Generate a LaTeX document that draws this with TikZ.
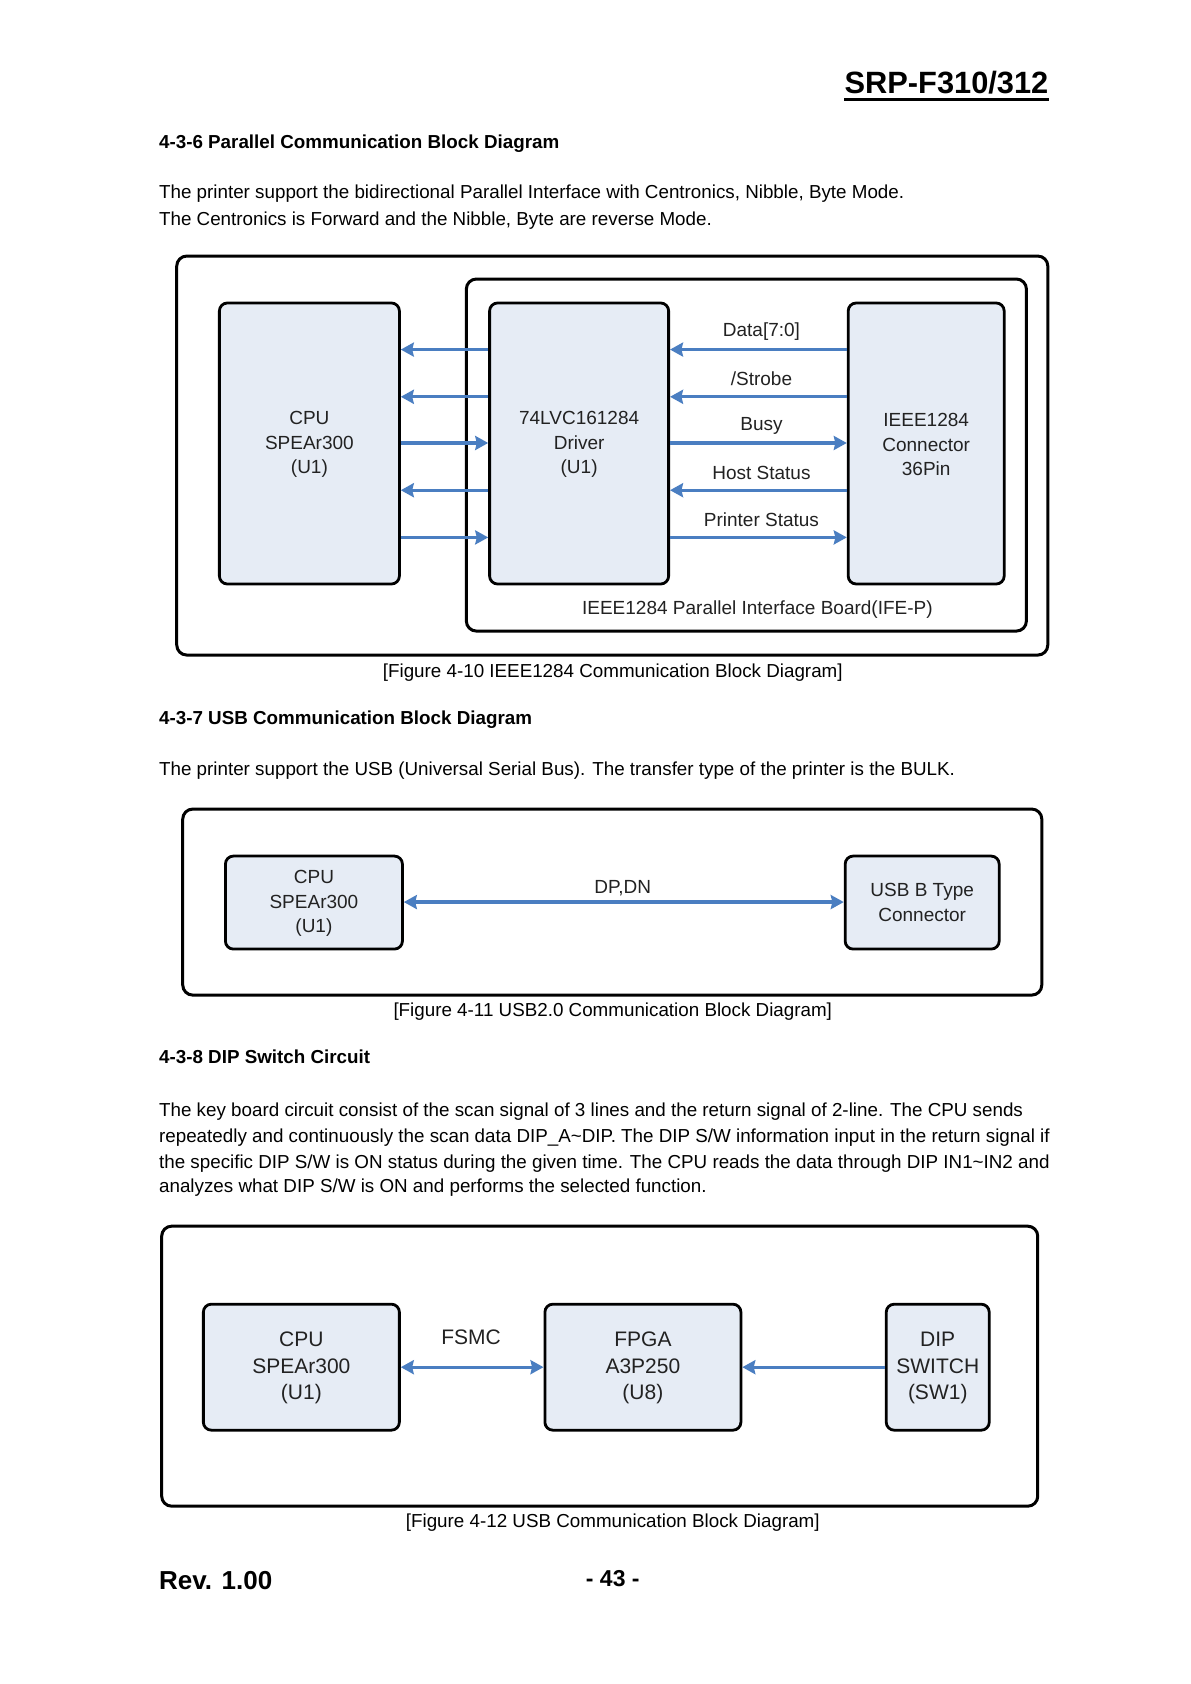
\documentclass[tikz,border=0pt]{standalone}
\usepackage{fontspec}
\setmainfont{Liberation Sans}
\usetikzlibrary{arrows.meta}
\definecolor{boxfill}{HTML}{E6ECF5}
\definecolor{arrowblue}{HTML}{4A7EC1}
\definecolor{txt}{HTML}{222222}
\begin{document}
\begin{tikzpicture}[x=0.50225pt,y=-0.50225pt,
 blk/.style={draw=black, line width=1.4pt, rounded corners=4pt, fill=boxfill, inner sep=0pt},
 frame/.style={draw=black, line width=1.5pt, rounded corners=5pt, inner sep=0pt},
 lbl/.style={font=\fontsize{9.5}{12.2}\selectfont, text=txt, align=center, inner sep=0pt},
 lblb/.style={font=\fontsize{10.5}{13.3}\selectfont, text=txt, align=center, inner sep=0pt},
 body/.style={font=\fontsize{9.4}{12}\selectfont, anchor=base west, inner sep=0pt},
 head/.style={font=\fontsize{9.4}{12}\selectfont\bfseries, anchor=base west, inner sep=0pt},
 capt/.style={font=\fontsize{9.4}{12}\selectfont, anchor=base, inner sep=0pt},
 tip/.tip={Stealth[length=6.5pt,width=7pt,inset=0.8pt]},
 arr/.style={draw=arrowblue, line width=1.6pt, -tip},
 darr/.style={draw=arrowblue, line width=1.6pt, tip-tip},
]
\useasboundingbox (0,0) rectangle (1185.6,1676.4);
\fill[white] (0,0) rectangle (1185.6,1676.4);

% header
\node[anchor=base east, inner sep=0pt, font=\fontsize{15.4}{18}\selectfont\bfseries] (hdr) at (1044,93) {SRP-F310/312};
\draw[line width=1.5pt] ([yshift=-2.8pt]hdr.base west) -- ([yshift=-2.8pt]hdr.base east);

% section 4-3-6
\node[head] (h1) at (158,147.5) {4-3-6 Parallel Communication Block Diagram};
\node[body] (p1a) at (158,198) {The printer support the bidirectional Parallel Interface with Centronics, Nibble, Byte Mode.};
\node[body] (p1b) at (158,224) {The Centronics is Forward and the Nibble, Byte are reverse Mode.};

% figure 4-10
\node[frame, minimum width=435.5pt, minimum height=199.5pt] (f1) at (609.5,453.5) {};
\node[frame, minimum width=280pt, minimum height=176pt] (f1in) at (743,453) {};
\node[blk, minimum width=90pt, minimum height=140.5pt] (cpu1) at (308,441.5) {};
\node[blk, minimum width=89.5pt, minimum height=140.5pt] (drv) at (576.5,441.5) {};
\node[blk, minimum width=78pt, minimum height=140.5pt] (ieee) at (922,441.5) {};
\node[lbl] (cpu1t) at (308,442.5) {CPU\\SPEAr300\\(U1)};
\node[lbl] (drvt) at (576.5,442.5) {74LVC161284\\Driver\\(U1)};
\node[lbl] (ieeet) at (922,442.5) {IEEE1284\\Connector\\36Pin};

\draw[arr] (drv.west |- 0,348) -- (cpu1.east |- 0,348);
\draw[arr] (drv.west |- 0,395) -- (cpu1.east |- 0,395);
\draw[arr] (cpu1.east |- 0,441) -- (drv.west |- 0,441);
\draw[arr] (drv.west |- 0,488) -- (cpu1.east |- 0,488);
\draw[arr] (cpu1.east |- 0,535) -- (drv.west |- 0,535);

\draw[arr] (ieee.west |- 0,348) -- (drv.east |- 0,348);
\draw[arr] (ieee.west |- 0,395) -- (drv.east |- 0,395);
\draw[arr] (drv.east |- 0,441) -- (ieee.west |- 0,441);
\draw[arr] (ieee.west |- 0,488) -- (drv.east |- 0,488);
\draw[arr] (drv.east |- 0,535) -- (ieee.west |- 0,535);

\node[lbl] (l1) at (758,330) {Data[7:0]};
\node[lbl] (l2) at (758,377) {/Strobe};
\node[lbl] (l3) at (758,424) {Busy};
\node[lbl] (l4) at (758,471) {Host Status};
\node[lbl] (l5) at (758,517) {Printer Status};
\node[lbl] (board) at (754,607) {IEEE1284 Parallel Interface Board(IFE-P)};
\node[capt] (c1) at (610,674) {[Figure 4-10 IEEE1284 Communication Block Diagram]};

% section 4-3-7
\node[head] (h2) at (158,721) {4-3-7 USB Communication Block Diagram};
\node[body] (p2) at (158,772) {The printer support the USB (Universal Serial Bus). The transfer type of the printer is the BULK.};

% figure 4-11
\node[frame, minimum width=429.5pt, minimum height=93pt] (f2) at (609.5,898) {};
\node[blk, minimum width=88.5pt, minimum height=46.5pt] (cpu2) at (312.5,898.5) {};
\node[blk, minimum width=77pt, minimum height=46.5pt] (usb) at (918,898.5) {};
\node[lbl] (cpu2t) at (312.5,899.5) {CPU\\SPEAr300\\(U1)};
\node[lbl] (usbt) at (918,898.5) {USB B Type\\Connector};
\draw[darr] (cpu2.east |- 0,898) -- (usb.west |- 0,898);
\node[lbl] (l6) at (620,884) {DP,DN};
\node[capt] (c2) at (610,1012) {[Figure 4-11 USB2.0 Communication Block Diagram]};

% section 4-3-8
\node[head] (h3) at (158,1059) {4-3-8 DIP Switch Circuit};
\node[body] (p3a) at (158,1111) {The key board circuit consist of the scan signal of 3 lines and the return signal of 2-line. The CPU sends};
\node[body] (p3b) at (158,1137) {repeatedly and continuously the scan data DIP\_A\textasciitilde DIP. The DIP S/W information input in the return signal if};
\node[body] (p3c) at (158,1163) {the specific DIP S/W is ON status during the given time. The CPU reads the data through DIP IN1\textasciitilde IN2 and};
\node[body] (p3d) at (158,1187) {analyzes what DIP S/W is ON and performs the selected function.};

% figure 4-12
\node[frame, minimum width=438pt, minimum height=140pt] (f3) at (597,1360) {};
\node[blk, minimum width=98pt, minimum height=63pt] (cpu3) at (300,1361) {};
\node[blk, minimum width=98pt, minimum height=63pt] (fpga) at (640,1361) {};
\node[blk, minimum width=51.5pt, minimum height=63pt] (dip) at (933.5,1361) {};
\node[lblb] (cpu3t) at (300,1362) {CPU\\SPEAr300\\(U1)};
\node[lblb] (fpgat) at (640,1362) {FPGA\\A3P250\\(U8)};
\node[lblb] (dipt) at (933.5,1362) {DIP\\SWITCH\\(SW1)};
\draw[darr] (cpu3.east |- 0,1361) -- (fpga.west |- 0,1361);
\draw[arr] (dip.west |- 0,1361) -- (fpga.east |- 0,1361);
\node[lblb] (l7) at (469,1331) {FSMC};
\node[capt] (c3) at (610,1521) {[Figure 4-12 USB Communication Block Diagram]};

% footer
\node[anchor=base west, inner sep=0pt, font=\fontsize{13}{15}\selectfont\bfseries] (rev) at (158,1582) {Rev. 1.00};
\node[anchor=base, inner sep=0pt, font=\fontsize{11.5}{13}\selectfont\bfseries] (pg) at (610,1579) {- 43 -};
\end{tikzpicture}
\end{document}
